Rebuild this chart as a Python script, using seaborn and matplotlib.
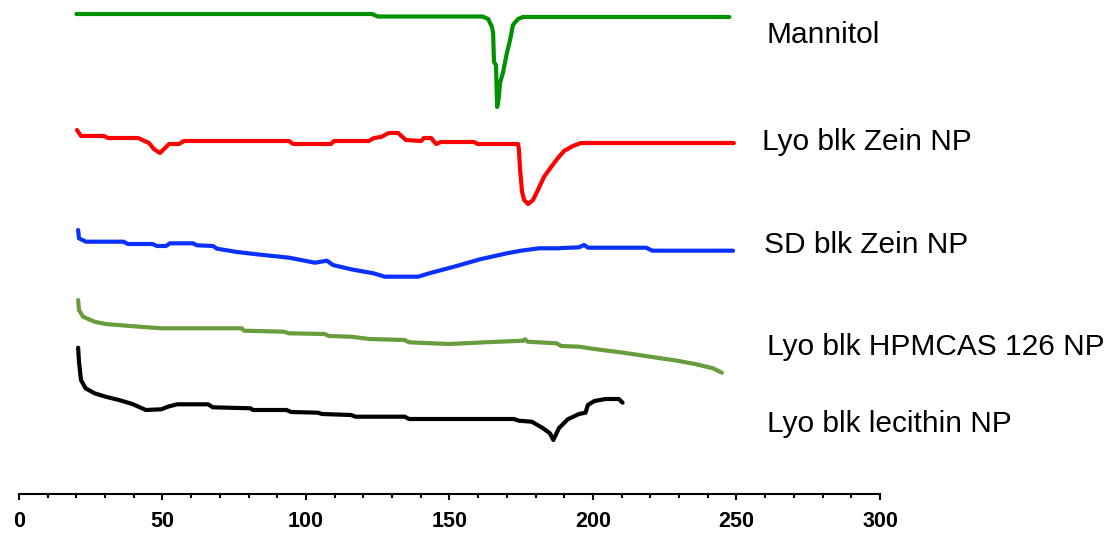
"""
DSC thermograms of blank nanoparticle formulations, stacked with offsets.
"""

import matplotlib.pyplot as plt
import pandas as pd
import seaborn as sns
from matplotlib.ticker import MultipleLocator

# temperature (deg C) and offset heat flow (a.u., stacked)
mannitol_t = [20, 123, 125, 161.5, 163.5, 164.8, 165.2, 165.5, 166.2, 166.6,
              167.2, 167.6, 168.6, 170.0, 171.1, 172.1, 173.9, 175.6, 247.5]
mannitol_hf = [519, 519, 516.5, 516.5, 514, 506, 500, 471, 468, 426,
               436, 450, 460, 480, 493, 508, 514, 516, 516]

lyo_zein_t = [20.2, 21.6, 29.6, 31.0, 41.5, 45.3, 47.0, 49.1, 52.3, 55.7,
              57.5, 94.1, 95.5, 108.7, 109.8, 121.9, 123.7, 126.1, 128.9, 132.1,
              134.8, 140.1, 141.1, 143.6, 145.3, 147.0, 158.5, 159.9, 173.9, 174.2,
              174.6, 175.3, 176.0, 177.4, 179.1, 180.8, 182.9, 185.4, 187.8, 189.9,
              193.0, 195.8, 249.1]
lyo_zein_hf = [403, 397, 397, 395, 395, 390, 384, 380, 389, 389,
               392, 392, 389, 389, 392, 392, 395, 396, 400, 400,
               393, 392, 395, 395, 389, 391, 391, 389, 389, 383,
               363, 341, 333, 329, 333, 343, 356, 366, 375, 382,
               387, 390, 390]

sd_zein_t = [20.6, 20.9, 23.3, 36.4, 38.0, 46.5, 48.1, 51.2, 52.6, 60.6,
             62.0, 67.6, 69.0, 76.0, 82.9, 94.1, 103.1, 107.3, 109.4, 115.7,
             123.5, 127.5, 139.0, 143.7, 151.6, 160.6, 170.0, 174.9, 181.2, 187.3,
             195.1, 196.9, 198.3, 218.5, 220.7, 248.8]
sd_zein_hf = [303, 294.7, 291.3, 291.3, 289, 289, 287, 287, 289.7, 289.7,
              287.7, 287, 284.3, 281, 278.7, 275.3, 270.3, 272.3, 268, 263.7,
              259.7, 256.3, 256.3, 260.3, 266.3, 273.7, 279.7, 282.3, 284.7, 284.7,
              285.7, 288, 285.3, 285.3, 282.3, 282.3]

hpmcas_t = [20.6, 20.9, 22.3, 26.3, 30.2, 38.7, 49.6, 77.6, 78.4, 92.3,
            94.0, 106.4, 108.0, 115.7, 122.0, 134.4, 135.9, 149.8, 162.4, 175.6,
            176.3, 177.2, 187.3, 188.9, 195.1, 201.3, 210.6, 219.9, 229.3, 235.5,
            241.8, 244.9]
hpmcas_hf = [233, 223, 216.3, 211.3, 209, 207, 204.7, 204.7, 202.3, 201.3,
             199.7, 199, 197, 196.3, 194, 193, 190.7, 189, 190.7, 192.3,
             193.7, 191.3, 189.7, 187, 186.3, 183.7, 180.3, 176.3, 172.3, 169,
             164.7, 160.3]

lecithin_t = [20.6, 20.9, 21.6, 23.2, 26.3, 30.2, 34.8, 39.5, 44.2, 49.6,
              51.9, 55.1, 65.9, 67.5, 80.7, 81.5, 93.2, 94.8, 104.1, 105.6,
              115.7, 117.3, 134.4, 135.9, 172.5, 174.1, 178.7, 182.6, 185.0, 186.2,
              188.1, 191.2, 195.1, 197.4, 198.2, 200.5, 204.4, 209.0, 210.3]
lecithin_hf = [185.3, 171.3, 153, 144.7, 139.7, 136.3, 133, 129, 123, 123.7,
               126.3, 128.7, 128.7, 125.7, 124.7, 123, 123, 121, 120.3, 119,
               118, 116.3, 116.3, 114, 114, 112.3, 111.3, 104.7, 99.7, 93,
               104.7, 113.7, 119, 120.3, 128, 132, 134, 134, 130.3]

sample_names = ["Mannitol", "Lyo blk Zein NP", "SD blk Zein NP",
                "Lyo blk HPMCAS 126 NP", "Lyo blk lecithin NP"]
sample_colors = ["#009000", "#ff0000", "#0a32ff", "#689c3c", "#000000"]
label_x = [260.6, 258.9, 259.6, 260.6, 260.6]
label_y = [490, 383, 280, 178, 101]

sns.set_style("white")
plt.rcParams["font.family"] = ["Liberation Sans", "DejaVu Sans"]
plt.rcParams["text.color"] = "black"
plt.rcParams["xtick.color"] = "black"
plt.rcParams["xtick.labelcolor"] = "black"
plt.rcParams["axes.edgecolor"] = "black"

curves = [
    (mannitol_t, mannitol_hf),
    (lyo_zein_t, lyo_zein_hf),
    (sd_zein_t, sd_zein_hf),
    (hpmcas_t, hpmcas_hf),
    (lecithin_t, lecithin_hf),
]

fig = plt.figure(figsize=(11.14, 5.33), dpi=100)
ax = fig.add_axes([19 / 1114, 39 / 533, 861 / 1114, 494 / 533])

for (t, hf), name, color in zip(curves, sample_names, sample_colors):
    df = pd.DataFrame({"Temperature": t, "Heat flow": hf})
    sns.lineplot(data=df, x="Temperature", y="Heat flow", color=color,
                 linewidth=3.0, sort=False, ax=ax)

for name, x, y in zip(sample_names, label_x, label_y):
    ax.text(x, y, name, fontsize=21.5, va="baseline", ha="left",
            color="black", clip_on=False)

ax.set_xlim(0, 300)
ax.set_ylim(39, 533)
ax.xaxis.set_major_locator(MultipleLocator(50))
ax.xaxis.set_minor_locator(MultipleLocator(10))
ax.tick_params(axis="x", which="major", direction="out", length=4.5,
               width=1.5, pad=7.5, labelsize=15.5, bottom=True,
               colors="black")
ax.tick_params(axis="x", which="minor", direction="out", length=2.8,
               width=1.5, bottom=True, colors="black")
for lbl in ax.get_xticklabels():
    lbl.set_fontweight("bold")

ax.set_yticks([])
ax.set_xlabel("")
ax.set_ylabel("")
for side in ["left", "top", "right"]:
    ax.spines[side].set_visible(False)
ax.spines["bottom"].set_linewidth(1.5)
ax.spines["bottom"].set_color("black")
ax.patch.set_alpha(0)

fig.savefig("out.png", dpi=100)
